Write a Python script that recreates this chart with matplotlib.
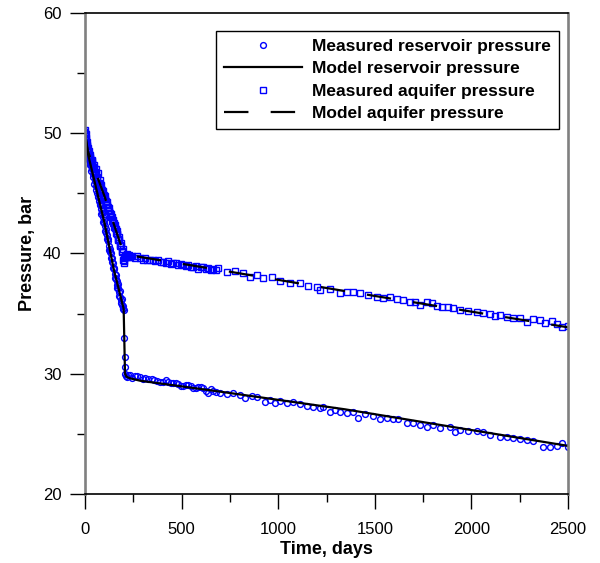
import matplotlib
matplotlib.use('Agg')
import matplotlib.pyplot as plt
from matplotlib.ticker import MultipleLocator

plt.rcParams['font.family'] = ['Liberation Sans', 'DejaVu Sans']

# Measured reservoir pressure (days, bar)
res_t = [0, 2, 4, 6, 8, 10, 13, 16, 19, 22, 25, 28, 32, 36, 40, 44, 48, 52, 56, 60,
         65, 70, 75, 80, 85, 90, 95, 100, 105, 110, 115, 120, 125, 130, 135, 140, 145,
         150, 155, 160, 165, 170, 175, 180, 185, 190, 195, 199, 202, 204, 205, 206, 208,
         212, 218, 225, 233, 245, 259, 270, 285, 298, 311, 325, 345, 358, 371, 390, 405,
         418, 431, 445, 457, 470, 483, 497, 509, 522, 535, 548, 561, 575, 587, 600, 613,
         625, 638, 650, 664, 680, 699, 733, 768, 802, 828, 863, 889, 932, 958, 983, 1009,
         1044, 1078, 1113, 1147, 1182, 1216, 1234, 1268, 1294, 1320, 1354, 1389, 1415,
         1449, 1492, 1527, 1561, 1596, 1622, 1665, 1700, 1734, 1769, 1803, 1838, 1889,
         1915, 1941, 1984, 2027, 2062, 2096, 2148, 2183, 2217, 2252, 2286, 2321, 2372,
         2407, 2441, 2467, 2500,
         # extra early readings
         1, 3, 7, 11, 14, 20, 27, 34, 42, 50, 58, 63, 68, 73, 78, 83, 88, 93, 98, 103,
         108, 113, 118, 123, 128, 133, 138, 143, 148, 153, 158, 163, 168, 173, 178, 183,
         188, 193, 197]
res_p = [50.2, 49.9, 49.3, 49.5, 48.9, 49.0, 48.3, 48.5, 47.8, 48.0, 47.4, 47.6, 46.9,
         47.1, 46.4, 46.6, 45.8, 46.0, 45.3, 45.5, 44.7, 44.9, 44.1, 44.2, 43.3, 43.5,
         42.6, 42.8, 41.9, 42.0, 41.2, 41.2, 40.3, 40.4, 39.6, 39.6, 38.8, 38.8, 38.0,
         38.2, 37.4, 37.5, 36.8, 36.9, 36.1, 36.2, 35.5, 35.6, 35.3, 32.95, 31.4, 30.6,
         30.0, 29.85, 29.7, 29.9, 29.9, 29.65, 29.81, 29.8, 29.76, 29.55, 29.62, 29.6,
         29.56, 29.45, 29.43, 29.3, 29.34, 29.45, 29.34, 29.2, 29.2, 29.25, 29.15, 29.0,
         28.98, 29.1, 29.07, 28.95, 28.79, 28.8, 28.93, 28.9, 28.79, 28.6, 28.43, 28.7,
         28.57, 28.45, 28.37, 28.29, 28.37, 28.23, 27.96, 28.15, 28.09, 27.68, 27.82,
         27.54, 27.76, 27.6, 27.68, 27.46, 27.35, 27.21, 27.18, 27.26, 26.85, 26.99,
         26.85, 26.76, 26.79, 26.29, 26.65, 26.49, 26.21, 26.29, 26.21, 26.21, 25.88,
         25.93, 25.74, 25.6, 25.74, 25.46, 25.6, 25.18, 25.32, 25.27, 25.24, 25.18,
         24.91, 24.71, 24.71, 24.63, 24.57, 24.49, 24.41, 23.94, 23.88, 23.99, 24.21,
         23.94,
         49.6, 49.4, 49.1, 48.7, 48.6, 48.1, 47.7, 47.0, 46.6, 46.2, 45.6, 45.0, 44.8,
         44.4, 44.0, 43.7, 43.4, 43.0, 42.5, 42.3, 41.7, 41.5, 41.0, 40.6, 40.1, 40.0,
         39.3, 39.2, 38.7, 38.3, 37.9, 37.7, 37.1, 37.1, 36.5, 36.4, 35.9, 35.7, 35.4]

# Model reservoir pressure
res_model_t = [0, 15, 55, 100, 150, 200, 207, 215, 233, 285, 700, 1346, 2500]
res_model_p = [50.0, 48.3, 45.6, 42.6, 38.6, 35.4, 30.0, 29.75, 29.62, 29.42, 28.51,
               27.04, 24.0]

# Measured aquifer pressure
aq_t = [0, 3, 6, 9, 12, 15, 18, 21, 24, 28, 32, 36, 40, 45, 50, 55, 60, 67, 70, 75,
        80, 85, 90, 95, 100, 105, 110, 115, 120, 125, 130, 135, 140, 145, 150, 155,
        160, 165, 170, 175, 180, 185, 190, 195, 198, 200, 203, 207, 212, 218, 233, 245,
        258, 270, 285, 298, 310, 323, 336, 350, 363, 380, 392, 405, 418, 430, 444, 457,
        470, 483, 496, 509, 522, 535, 548, 561, 575, 587, 600, 613, 625, 638, 651, 664,
        677, 690, 733, 776, 820, 854, 889, 923, 966, 1009, 1061, 1113, 1156, 1199, 1216,
        1268, 1320, 1354, 1389, 1423, 1467, 1510, 1544, 1579, 1613, 1648, 1682, 1708,
        1734, 1769, 1794, 1820, 1846, 1881, 1907, 1941, 1984, 2027, 2062, 2096, 2122,
        2148, 2183, 2217, 2252, 2286, 2321, 2355, 2381, 2416, 2441, 2467, 2500,
        # extra early readings
        1, 5, 8, 11, 14, 20, 26, 30, 34, 38, 43, 48, 53, 58, 63, 73, 78, 83, 88, 93,
        98, 103, 108, 113, 118, 123, 128, 133, 138, 143, 148, 153, 158, 163, 168, 173,
        178, 183, 188, 193, 202, 205, 210, 215, 222, 228]
aq_p = [50.3, 49.9, 49.6, 49.3, 48.6, 48.8, 48.1, 48.5, 47.9, 48.2, 47.5, 47.8, 47.2,
        47.4, 46.8, 47.0, 46.3, 46.7, 45.9, 46.1, 45.5, 45.7, 45.0, 45.2, 44.6, 44.8,
        44.1, 44.3, 43.6, 43.8, 43.1, 43.3, 42.7, 42.8, 42.2, 42.4, 41.7, 41.9, 41.2,
        41.4, 40.7, 40.9, 40.2, 40.4, 39.5, 39.2, 39.6, 39.9, 39.7, 39.95, 39.74, 39.8,
        39.65, 39.75, 39.6, 39.5, 39.65, 39.45, 39.46, 39.5, 39.35, 39.45, 39.3, 39.32,
        39.2, 39.35, 39.15, 39.24, 39.2, 39.05, 39.15, 39.04, 38.95, 39.05, 38.85, 38.9,
        38.95, 38.75, 38.85, 38.85, 38.7, 38.8, 38.6, 38.68, 38.65, 38.77, 38.49, 38.55,
        38.35, 38.07, 38.21, 37.93, 38.02, 37.74, 37.57, 37.52, 37.3, 37.24, 36.97,
        37.02, 36.69, 36.77, 36.83, 36.69, 36.55, 36.36, 36.27, 36.36, 36.19, 36.13,
        35.99, 35.99, 35.72, 35.99, 35.86, 35.64, 35.58, 35.52, 35.44, 35.3, 35.22,
        35.16, 35.08, 34.97, 34.8, 34.89, 34.75, 34.61, 34.66, 34.33, 34.55, 34.47,
        34.25, 34.39, 34.14, 33.86, 33.97,
        50.0, 49.4, 49.0, 48.9, 48.4, 48.3, 48.0, 47.7, 47.7, 47.5, 47.1, 47.1, 46.7,
        46.6, 46.4, 45.8, 45.8, 45.4, 45.3, 44.9, 44.9, 44.5, 44.4, 44.0, 43.9, 43.5,
        43.4, 43.0, 43.0, 42.5, 42.5, 42.1, 42.0, 41.6, 41.6, 41.1, 41.1, 40.6, 40.6,
        40.1, 39.4, 39.8, 39.75, 39.85, 39.7, 39.9]

# Model aquifer pressure
aq_model_t = [0, 15, 100, 200, 225, 700, 1346, 2500]
aq_model_p = [50.0, 48.5, 44.8, 40.0, 39.87, 38.62, 36.87, 33.86]

fig = plt.figure(figsize=(6, 5.63), dpi=100)
ax = fig.add_axes([0.1417, 0.1226, 0.805, 0.8543])

ax.plot(res_t, res_p, 'o', ls='none', ms=4.2, mfc='none', mec='#0000ff', mew=1.0,
        label='Measured reservoir pressure')
ax.plot(aq_t, aq_p, 's', ls='none', ms=4.2, mfc='none', mec='#0000ff', mew=1.0,
        label='Measured aquifer pressure')
ax.plot(res_model_t, res_model_p, color='black', lw=1.6,
        label='Model reservoir pressure')
ax.plot(aq_model_t, aq_model_p, color='black', lw=1.6, ls=(0, (11, 10)),
        label='Model aquifer pressure')

ax.set_xlim(0, 2500)
ax.set_ylim(20, 60)
ax.xaxis.set_major_locator(MultipleLocator(500))
ax.xaxis.set_minor_locator(MultipleLocator(250))
ax.yaxis.set_major_locator(MultipleLocator(10))
ax.yaxis.set_minor_locator(MultipleLocator(5))
ax.tick_params(which='major', direction='out', length=11, width=1, labelsize=12)
ax.tick_params(which='minor', direction='out', length=6, width=1)
ax.tick_params(axis='x', which='major', pad=9)
ax.tick_params(axis='y', which='major', pad=6)
ax.set_xlabel('Time, days', fontsize=13, fontweight='bold', labelpad=3)
ax.set_ylabel('Pressure, bar', fontsize=13, fontweight='bold', labelpad=5)

for s in ['left', 'right']:
    ax.spines[s].set_color('#808080')
    ax.spines[s].set_linewidth(1.9)
for s in ['top', 'bottom']:
    ax.spines[s].set_color('black')
    ax.spines[s].set_linewidth(1.2)

handles, labels = ax.get_legend_handles_labels()
order = [0, 2, 1, 3]
leg = ax.legend([handles[i] for i in order], [labels[i] for i in order],
                loc='upper right', bbox_to_anchor=(0.981, 0.9626),
                prop={'weight': 'bold', 'size': 12.5}, fancybox=False, framealpha=1,
                edgecolor='black', handlelength=4.5, handletextpad=0.6,
                borderpad=0.45, labelspacing=0.42, borderaxespad=0)
leg.get_frame().set_linewidth(1.0)

plt.savefig('out.png', dpi=100)
